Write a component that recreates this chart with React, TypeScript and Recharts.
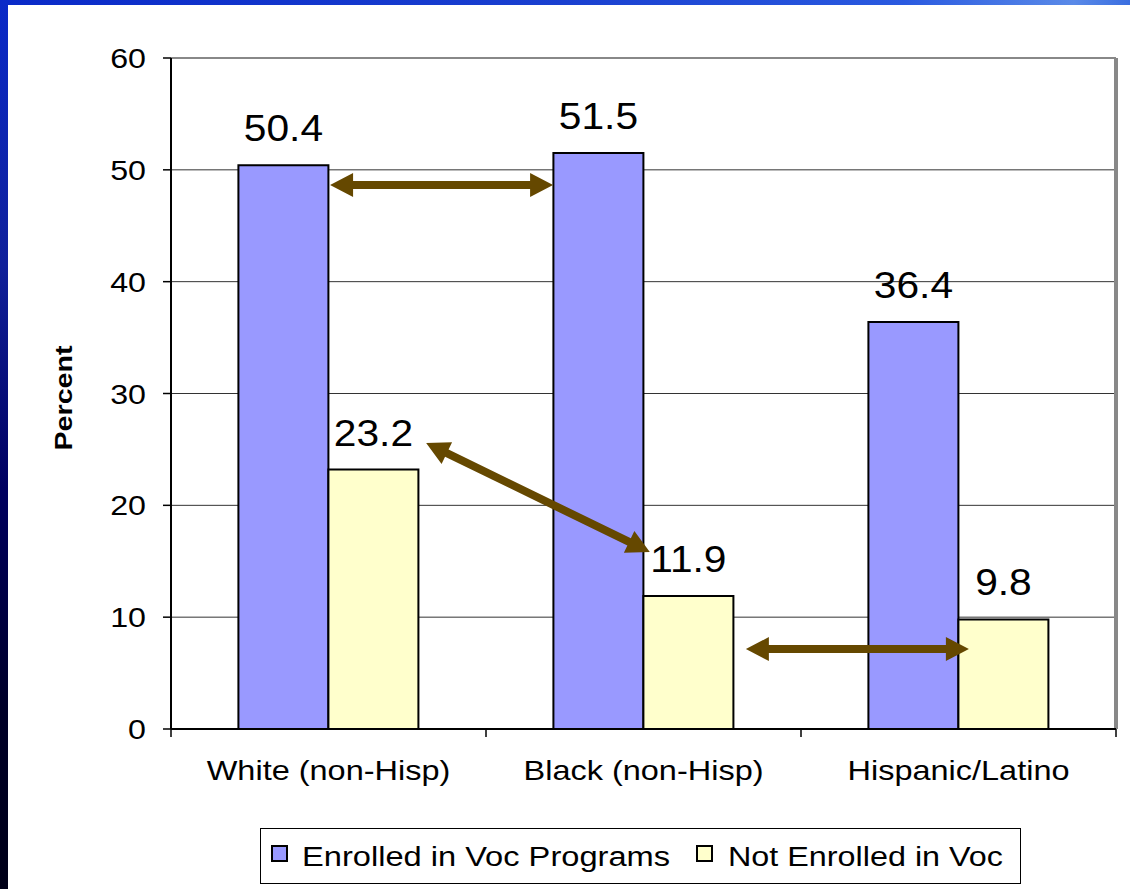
import React from 'react'
import { BarChart, Bar, XAxis, YAxis, CartesianGrid, ReferenceLine, LabelList, Legend } from 'recharts'

const groups = ['White (non-Hisp)', 'Black (non-Hisp)', 'Hispanic/Latino']
const enrolled = [50.4, 51.5, 36.4]
const notEnrolled = [23.2, 11.9, 9.8]
const yTicks = [0, 10, 20, 30, 40, 50, 60]
const seriesNames = ['Enrolled in Voc Programs', 'Not Enrolled in Voc']
const seriesColors = ['#9999FF', '#FFFFCC']

// arrow annotations in data units (x runs 0..3 across the three groups, y is percent)
const arrowStart = [
  { x: 0.505, y: 48.65 },
  { x: 0.81, y: 25.57 },
  { x: 1.825, y: 7.15 },
]
const arrowEnd = [
  { x: 1.213, y: 48.65 },
  { x: 1.52, y: 15.83 },
  { x: 2.533, y: 7.15 },
]

// slot = group index on a 0..3 numeric scale, used only to place the arrows
const data = groups.map((g, i) => ({ group: g, slot: i + 0.5, enrolled: enrolled[i], notEnrolled: notEnrolled[i] }))

const FONT = '"Liberation Sans", Arial, sans-serif'
const ARROW = '#654800'

const DoubleArrow = (props: any) => {
  const { x1, y1, x2, y2 } = props
  const dx = x2 - x1
  const dy = y2 - y1
  const len = Math.hypot(dx, dy)
  if (!len) return null
  const ux = dx / len
  const uy = dy / len
  const nx = -uy
  const ny = ux
  const head = 23
  const hw = 12
  const sw = 4
  const p = (a: number, b: number) => `${x1 + ux * a + nx * b},${y1 + uy * a + ny * b}`
  const pts = [
    p(0, 0), p(head, hw), p(head, sw), p(len - head, sw), p(len - head, hw),
    p(len, 0), p(len - head, -hw), p(len - head, -sw), p(head, -sw), p(head, -hw),
  ].join(' ')
  return <polygon points={pts} fill={ARROW} />
}

const YTick = (props: any) => {
  const { x, y, payload } = props
  return (
    <text transform={`translate(${x},${y}) scale(1.15,1)`} textAnchor="end" dy="0.36em"
      fontSize={28} fontFamily={FONT} fill="#000">
      {payload.value}
    </text>
  )
}

const XTick = (props: any) => {
  const { x, y, payload, index } = props
  const half = payload.offset || 157.5
  return (
    <g>
      <line x1={x - half} x2={x - half} y1={y - 8} y2={y} stroke="#000" strokeWidth={1.5} />
      {index === groups.length - 1 && (
        <line x1={x + half} x2={x + half} y1={y - 8} y2={y} stroke="#000" strokeWidth={1.5} />
      )}
      <text transform={`translate(${x},${y + 43}) scale(1.16,1)`} textAnchor="middle"
        fontSize={28} fontFamily={FONT} fill="#000">
        {payload.value}
      </text>
    </g>
  )
}

const ValueLabel = (props: any) => {
  const { x, y, width, value } = props
  return (
    <text transform={`translate(${x + width / 2},${y - 24}) scale(1.1,1)`} textAnchor="middle"
      fontSize={37} fontFamily={FONT} fill="#000">
      {value}
    </text>
  )
}

const YLabel = () => (
  <text transform="translate(72,398) rotate(-90)" textAnchor="middle" fontSize={23}
    fontWeight="bold" fontFamily={FONT} fill="#000" textLength={105} lengthAdjust="spacingAndGlyphs">
    Percent
  </text>
)

const LegendBox = () => (
  <svg width={761} height={56} style={{ display: 'block' }}>
    <rect x={0.5} y={0.5} width={760} height={55} fill="#fff" stroke="#000" strokeWidth={1} />
    <rect x={12} y={18} width={15} height={15} fill={seriesColors[0]} stroke="#000" strokeWidth={2} />
    <text x={42} y={38} fontSize={27} fontFamily={FONT} textLength={368} lengthAdjust="spacingAndGlyphs">
      {seriesNames[0]}
    </text>
    <text x={468} y={38} fontSize={27} fontFamily={FONT} textLength={275} lengthAdjust="spacingAndGlyphs">
      {seriesNames[1]}
    </text>
    <rect x={437} y={18} width={15} height={15} fill={seriesColors[1]} stroke="#000" strokeWidth={2} />
  </svg>
)

export default function App() {
  return (
    <div style={{
      position: 'fixed', left: 0, top: 0, width: 1130, height: 889, overflow: 'hidden',
      background: 'linear-gradient(180deg, #0a2ac8 0%, #10209a 30%, #000060 55%, #000028 80%, #000018 100%)',
    }}>
      <div style={{
        position: 'absolute', left: 0, top: 0, width: 1130, height: 5,
        background: 'linear-gradient(90deg, #0a2ac8 0%, #1a40d0 50%, #2a5ae0 80%, #5a8ae8 95%, #3a6ee0 100%)',
      }} />
      <div style={{ position: 'absolute', left: 8, top: 5, right: 0, bottom: 0, background: '#fff' }} />
      <div style={{ position: 'absolute', left: 0, top: 0 }}>
        <BarChart width={1130} height={889} data={data}
          margin={{ top: 58, right: 14, bottom: 5, left: 0 }}
          barCategoryGap="21.4%" barGap={0}>
          <CartesianGrid vertical={false} stroke="#333" strokeWidth={1} />
          <XAxis dataKey="group" height={99} tickSize={8} tickMargin={0} tickLine={false}
            axisLine={{ stroke: '#000', strokeWidth: 2 }} tick={<XTick />} interval={0} />
          <XAxis xAxisId="num" dataKey="slot" type="number" domain={[0, 3]} allowDataOverflow hide />
          <YAxis type="number" domain={[0, 60]} ticks={yTicks} width={171} tickSize={8} tickMargin={17}
            axisLine={{ stroke: '#000', strokeWidth: 2 }} tickLine={{ stroke: '#000', strokeWidth: 1.5 }}
            tick={<YTick />} interval={0} label={{ value: 'Percent', content: <YLabel /> }} />
          <ReferenceLine y={60} stroke="#888" strokeWidth={2} />
          <ReferenceLine xAxisId="num" x={3} stroke="#888" strokeWidth={4} ifOverflow="visible" />
          <Bar dataKey="enrolled" name={seriesNames[0]} fill={seriesColors[0]} stroke="#000" strokeWidth={2}
            isAnimationActive={false}>
            <LabelList dataKey="enrolled" content={<ValueLabel />} />
          </Bar>
          <Bar dataKey="notEnrolled" name={seriesNames[1]} fill={seriesColors[1]} stroke="#000" strokeWidth={2}
            isAnimationActive={false}>
            <LabelList dataKey="notEnrolled" content={<ValueLabel />} />
          </Bar>
          {arrowStart.map((s, i) => (
            <ReferenceLine key={i} xAxisId="num" segment={[s, arrowEnd[i]]} shape={<DoubleArrow />}
              ifOverflow="visible" />
          ))}
          <Legend verticalAlign="bottom" wrapperStyle={{ left: 260, width: 761 }} content={<LegendBox />} />
        </BarChart>
      </div>
    </div>
  )
}
